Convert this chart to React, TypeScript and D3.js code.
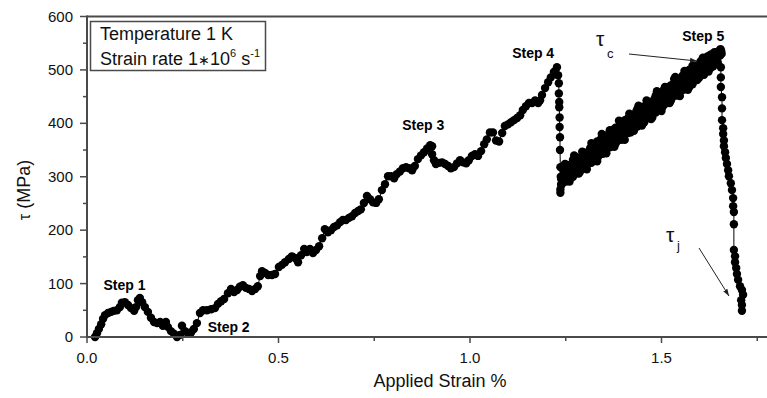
import React from 'react';
import * as d3 from 'd3';

const xMajorTicks = [0, 0.5, 1.0, 1.5];
const xMinorTicks = [0.25, 0.75, 1.25, 1.75];
const yMajorTicks = [0, 100, 200, 300, 400, 500, 600];
const yMinorTicks = [50, 150, 250, 350, 450, 550];

// [strain %, tau MPa]
const riseSegment: [number, number][] = [
  [0.021, 0], [0.026, 7], [0.031, 15], [0.037, 24], [0.042, 34], [0.047, 41], [0.055, 45], [0.063, 47],
  [0.070, 49], [0.078, 50], [0.086, 56], [0.091, 64], [0.099, 65], [0.107, 60], [0.115, 54], [0.123, 49],
  [0.128, 56], [0.133, 69], [0.138, 73], [0.144, 65], [0.151, 56], [0.159, 47], [0.167, 36], [0.175, 28],
  [0.183, 26], [0.191, 28], [0.198, 21], [0.206, 28], [0.211, 19], [0.219, 11], [0.227, 6], [0.235, 0],
  [0.243, 4], [0.248, 21], [0.256, 11], [0.264, 6], [0.272, 9], [0.279, 15], [0.287, 26], [0.295, 45],
  [0.303, 50], [0.313, 50], [0.324, 52], [0.334, 54], [0.342, 62], [0.350, 67], [0.358, 71], [0.368, 82],
  [0.376, 90], [0.384, 84], [0.392, 88], [0.399, 94], [0.407, 97], [0.415, 92], [0.423, 90], [0.431, 86],
  [0.439, 90], [0.446, 95], [0.452, 114], [0.457, 123], [0.465, 120], [0.473, 116], [0.483, 116], [0.491, 118],
  [0.501, 131], [0.509, 135], [0.517, 140], [0.527, 146], [0.535, 151], [0.543, 148], [0.551, 140], [0.559, 153],
  [0.567, 165], [0.574, 159], [0.582, 165], [0.590, 157], [0.598, 163], [0.606, 170], [0.614, 185], [0.621, 202],
  [0.629, 196], [0.637, 200], [0.645, 206], [0.653, 209], [0.661, 215], [0.668, 219], [0.676, 219], [0.684, 223],
  [0.692, 226], [0.700, 232], [0.708, 236], [0.715, 239], [0.723, 251], [0.731, 264], [0.739, 258], [0.747, 252],
  [0.755, 251], [0.762, 258], [0.770, 275], [0.778, 286], [0.786, 301], [0.794, 301], [0.802, 297], [0.809, 305],
  [0.817, 310], [0.825, 316], [0.833, 318], [0.841, 316], [0.849, 312], [0.856, 320], [0.864, 333], [0.872, 340],
  [0.880, 346], [0.888, 353], [0.896, 359], [0.901, 357],
  [0.901, 342], [0.906, 331], [0.911, 324], [0.919, 326], [0.927, 327], [0.935, 324], [0.943, 320], [0.950, 316],
  [0.958, 318], [0.966, 325], [0.974, 331], [0.982, 327], [0.990, 325], [0.997, 331], [1.005, 339], [1.013, 342],
  [1.021, 339], [1.029, 348], [1.037, 361], [1.044, 370], [1.052, 383], [1.060, 383], [1.068, 368], [1.076, 366],
  [1.084, 382], [1.091, 395], [1.099, 398], [1.107, 402], [1.115, 406], [1.123, 410], [1.131, 415], [1.138, 425],
  [1.146, 432], [1.154, 438], [1.162, 438], [1.170, 443], [1.178, 438], [1.183, 443], [1.188, 453], [1.196, 466],
  [1.204, 477], [1.211, 486], [1.219, 496], [1.227, 505],
];

const step4Drop: [number, number][] = [
  [1.230, 490], [1.232, 475], [1.232, 456], [1.233, 440], [1.233, 430], [1.234, 411], [1.234, 393],
  [1.235, 374], [1.235, 350], [1.236, 318], [1.237, 300], [1.238, 285], [1.236, 270], [1.238, 296],
];

const hardeningBand: [number, number][] = [
  [1.236, 276], [1.239, 287], [1.242, 301], [1.245, 315], [1.248, 324], [1.251, 316], [1.254, 306], [1.257, 295],
  [1.260, 291], [1.263, 305], [1.266, 320], [1.269, 332], [1.272, 340], [1.275, 327], [1.278, 317], [1.281, 307],
  [1.284, 306], [1.287, 320], [1.290, 336], [1.293, 347], [1.296, 345], [1.299, 335], [1.302, 324], [1.305, 314],
  [1.308, 324], [1.311, 337], [1.314, 351], [1.317, 363], [1.320, 360], [1.323, 352], [1.326, 340], [1.329, 331],
  [1.332, 329], [1.335, 343], [1.338, 358], [1.341, 370], [1.344, 380], [1.347, 371], [1.350, 361], [1.353, 351],
  [1.356, 344], [1.359, 360], [1.362, 376], [1.365, 387], [1.368, 383], [1.371, 373], [1.374, 362], [1.377, 356],
  [1.380, 362], [1.383, 375], [1.386, 391], [1.389, 405], [1.392, 400], [1.395, 390], [1.398, 380], [1.401, 371],
  [1.404, 369], [1.407, 381], [1.410, 397], [1.413, 410], [1.416, 418], [1.419, 410], [1.422, 397], [1.425, 387],
  [1.428, 386], [1.431, 398], [1.434, 414], [1.437, 427], [1.440, 433], [1.443, 421], [1.446, 408], [1.449, 396],
  [1.452, 404], [1.455, 418], [1.458, 433], [1.461, 443], [1.464, 439], [1.467, 428], [1.470, 418], [1.473, 408],
  [1.476, 411], [1.479, 425], [1.482, 439], [1.485, 452], [1.488, 460], [1.491, 452], [1.494, 439], [1.497, 429],
  [1.500, 423], [1.503, 436], [1.506, 454], [1.509, 468], [1.512, 467], [1.515, 457], [1.518, 447], [1.521, 438],
  [1.524, 442], [1.527, 456], [1.530, 469], [1.533, 483], [1.536, 487], [1.539, 476], [1.542, 464], [1.545, 454],
  [1.548, 451], [1.551, 463], [1.554, 477], [1.557, 490], [1.560, 498], [1.563, 488], [1.566, 475], [1.569, 463],
  [1.572, 467], [1.575, 480], [1.578, 496], [1.581, 508], [1.584, 506], [1.587, 497], [1.590, 487], [1.593, 481],
  [1.596, 484], [1.599, 496], [1.602, 507], [1.605, 517], [1.608, 523], [1.611, 515], [1.614, 504], [1.617, 498],
  [1.620, 502], [1.623, 511], [1.626, 521], [1.629, 529], [1.632, 528], [1.635, 524], [1.638, 520], [1.641, 517],
  [1.644, 525], [1.647, 531], [1.650, 530],
];

// interleaved middle readings of the same band
const hardeningCore: [number, number][] = [
  [1.239, 299], [1.245, 306], [1.251, 303], [1.257, 315], [1.263, 307], [1.269, 318], [1.275, 313], [1.281, 325],
  [1.287, 331], [1.293, 327], [1.299, 328], [1.305, 342], [1.311, 340], [1.317, 337], [1.323, 349], [1.329, 348],
  [1.335, 357], [1.341, 350], [1.347, 361], [1.353, 367], [1.359, 363], [1.365, 369], [1.371, 379], [1.377, 372],
  [1.383, 377], [1.389, 388], [1.395, 381], [1.401, 392], [1.407, 394], [1.413, 390], [1.419, 403], [1.425, 402],
  [1.431, 412], [1.437, 406], [1.443, 415], [1.449, 411], [1.455, 419], [1.461, 428], [1.467, 422], [1.473, 432],
  [1.479, 431], [1.485, 442], [1.491, 433], [1.497, 444], [1.503, 450], [1.509, 446], [1.515, 458], [1.521, 455],
  [1.527, 454], [1.533, 465], [1.539, 472], [1.545, 465], [1.551, 473], [1.557, 479], [1.563, 473], [1.569, 488],
  [1.575, 484], [1.581, 494], [1.587, 490], [1.593, 497], [1.599, 506], [1.605, 498], [1.611, 508], [1.617, 509],
  [1.623, 517], [1.629, 512], [1.635, 523], [1.641, 523], [1.647, 528],
];

// upper-edge readings of the band
const hardeningUpper: [number, number][] = [
  [1.242, 314], [1.248, 313], [1.254, 322], [1.260, 322], [1.266, 322], [1.272, 330], [1.278, 336], [1.284, 334],
  [1.290, 337], [1.296, 345], [1.302, 345], [1.308, 345], [1.314, 354], [1.320, 356], [1.326, 356], [1.332, 366],
  [1.338, 365], [1.344, 369], [1.350, 375], [1.356, 374], [1.362, 380], [1.368, 378], [1.374, 388], [1.380, 392],
  [1.386, 391], [1.392, 396], [1.398, 396], [1.404, 406], [1.410, 407], [1.416, 407], [1.422, 414], [1.428, 415],
  [1.434, 422], [1.440, 418], [1.446, 426], [1.452, 431], [1.458, 430], [1.464, 440], [1.470, 440], [1.476, 439],
  [1.482, 446], [1.488, 452], [1.494, 451], [1.500, 454], [1.506, 463], [1.512, 462], [1.518, 463], [1.524, 471],
  [1.530, 473], [1.536, 472], [1.542, 482], [1.548, 481], [1.554, 488], [1.560, 489], [1.566, 491], [1.572, 500],
  [1.578, 496], [1.584, 504], [1.590, 508], [1.596, 508], [1.602, 516], [1.608, 512], [1.614, 519], [1.620, 525],
  [1.626, 527], [1.632, 527], [1.638, 533], [1.644, 533], [1.650, 533],
];

// lower-edge readings of the band
const hardeningLower: [number, number][] = [
  [1.239, 285], [1.245, 292], [1.251, 291], [1.257, 296], [1.263, 303], [1.269, 300], [1.275, 307], [1.281, 311],
  [1.287, 309], [1.293, 316], [1.299, 322], [1.305, 322], [1.311, 328], [1.317, 326], [1.323, 334], [1.329, 340],
  [1.335, 338], [1.341, 343], [1.347, 343], [1.353, 352], [1.359, 354], [1.365, 355], [1.371, 364], [1.377, 361],
  [1.383, 366], [1.389, 373], [1.395, 369], [1.401, 377], [1.407, 382], [1.413, 382], [1.419, 383], [1.425, 394],
  [1.431, 393], [1.437, 394], [1.443, 403], [1.449, 404], [1.455, 402], [1.461, 412], [1.467, 413], [1.473, 415],
  [1.479, 423], [1.485, 420], [1.491, 427], [1.497, 434], [1.503, 431], [1.509, 436], [1.515, 442], [1.521, 439],
  [1.527, 447], [1.533, 453], [1.539, 452], [1.545, 454], [1.551, 464], [1.557, 463], [1.563, 464], [1.569, 472],
  [1.575, 474], [1.581, 473], [1.587, 483], [1.593, 483], [1.599, 486], [1.605, 492], [1.611, 491], [1.617, 501],
  [1.623, 497], [1.629, 504], [1.635, 507], [1.641, 512], [1.647, 514],
];

const step5Peak: [number, number][] = [
  [1.651, 536], [1.654, 539], [1.656, 535], [1.657, 530],
];

const step5Drop: [number, number][] = [
  [1.653, 527], [1.655, 505], [1.655, 486], [1.655, 468], [1.658, 449], [1.658, 428], [1.658, 406], [1.661, 391],
  [1.661, 380], [1.663, 368], [1.663, 357], [1.666, 346], [1.668, 335], [1.671, 324], [1.674, 312], [1.676, 301],
  [1.681, 288], [1.684, 275], [1.687, 260], [1.687, 245], [1.689, 234], [1.689, 211],
  [1.689, 163], [1.692, 151], [1.692, 140], [1.695, 129], [1.697, 118], [1.700, 107], [1.705, 95], [1.710, 88],
  [1.713, 79], [1.708, 69], [1.710, 60], [1.710, 49],
];

const allPoints = [
  ...riseSegment, ...step4Drop, ...hardeningBand, ...hardeningCore,
  ...hardeningUpper, ...hardeningLower, ...step5Peak, ...step5Drop,
];

const stepLabels = [
  { text: 'Step 1', strain: 0.043, tau: 88 },
  { text: 'Step 2', strain: 0.315, tau: 10 },
  { text: 'Step 3', strain: 0.823, tau: 388 },
  { text: 'Step 4', strain: 1.110, tau: 523 },
  { text: 'Step 5', strain: 1.554, tau: 555 },
];

const W = 767;
const H = 398;
const FONT = "'Liberation Sans', Arial, Helvetica, sans-serif";

export default function App() {
  const x = d3.scaleLinear().domain([0, 1.8]).range([87, 87 + 1.8 * 383]);
  const y = d3.scaleLinear().domain([0, 600]).range([337, 16.5]);
  const line = d3.line<[number, number]>().x(d => x(d[0])).y(d => y(d[1]));
  const axisColor = '#4a4a4a';
  const x0 = x(0);
  const y0 = y(0);
  const yTop = y(600);

  return (
    <svg width={W} height={H} style={{ position: 'absolute', left: 0, top: 0, background: '#fff' }} fontFamily={FONT}>
      <defs>
        <marker id="arr" viewBox="0 0 10 10" refX="10" refY="5" markerWidth="7" markerHeight="7" orient="auto-start-reverse">
          <path d="M0,1.5 L10,5 L0,8.5 z" fill="#222" />
        </marker>
      </defs>
      <rect x={0} y={0} width={W} height={H} fill="#fff" />

      {/* data */}
      <path d={line(allPoints) || ''} fill="none" stroke="#000" strokeWidth={1} />
      {allPoints.map((d, i) => (
        <circle key={i} cx={x(d[0])} cy={y(d[1])} r={4.2} fill="#000" />
      ))}

      {/* axes frame */}
      <line x1={x0} x2={W} y1={yTop} y2={yTop} stroke={axisColor} strokeWidth={2} />
      <line x1={x0} x2={W} y1={y0} y2={y0} stroke={axisColor} strokeWidth={2} />
      <line x1={x0} x2={x0} y1={yTop - 1} y2={y0 + 1} stroke={axisColor} strokeWidth={2} />

      {yMajorTicks.map(t => (
        <g key={'ym' + t}>
          <line x1={x0 - 7} x2={x0} y1={y(t)} y2={y(t)} stroke={axisColor} strokeWidth={1.5} />
          <text x={x0 - 14} y={y(t) + 5} textAnchor="end" fontSize={15} fill="#111">{t}</text>
        </g>
      ))}
      {yMinorTicks.map(t => (
        <line key={'yn' + t} x1={x0 - 4} x2={x0} y1={y(t)} y2={y(t)} stroke={axisColor} strokeWidth={1.5} />
      ))}
      {xMajorTicks.map(t => (
        <g key={'xm' + t}>
          <line x1={x(t)} x2={x(t)} y1={y0} y2={y0 + 6} stroke={axisColor} strokeWidth={1.5} />
          <text x={x(t)} y={y0 + 26} textAnchor="middle" fontSize={15} fill="#111">{t.toFixed(1)}</text>
        </g>
      ))}
      {xMinorTicks.map(t => (
        <line key={'xn' + t} x1={x(t)} x2={x(t)} y1={y0} y2={y0 + 4} stroke={axisColor} strokeWidth={1.5} />
      ))}

      {/* axis titles */}
      <text x={440} y={387} textAnchor="middle" fontSize={18} fill="#111">Applied Strain %</text>
      <text transform="translate(30,190) rotate(-90)" textAnchor="middle" fontSize={18} fill="#111">
        <tspan fontSize={16}>τ</tspan> (MPa)
      </text>

      {/* legend box */}
      <rect x={90.5} y={21.5} width={175} height={49} fill="#fff" stroke={axisColor} strokeWidth={1.5} />
      <text x={100} y={40} fontSize={18} fill="#111">Temperature 1 K</text>
      <text x={100} y={65} fontSize={18} fill="#111">
        Strain rate 1<tspan fontSize={14}>∗</tspan>10<tspan fontSize={11} dy={-8}>6</tspan>
        <tspan dy={8}> s</tspan>
        <tspan fontSize={11} dy={-8}>-1</tspan>
      </text>

      {/* step labels */}
      {stepLabels.map(s => (
        <text key={s.text} x={x(s.strain)} y={y(s.tau)} fontSize={14} fontWeight="bold" fill="#000">{s.text}</text>
      ))}

      {/* tau_c annotation */}
      <text x={596} y={46} fontSize={21} fill="#111">τ</text>
      <text x={607} y={58} fontSize={13} fill="#111">c</text>
      <line x1={629} y1={54} x2={697} y2={61} stroke="#222" strokeWidth={1} markerEnd="url(#arr)" />

      {/* tau_j annotation */}
      <text x={666} y={242} fontSize={21} fill="#111">τ</text>
      <text x={677} y={250} fontSize={13} fill="#111">j</text>
      <line x1={699} y1={248} x2={729} y2={296} stroke="#222" strokeWidth={1} markerEnd="url(#arr)" />
    </svg>
  );
}
